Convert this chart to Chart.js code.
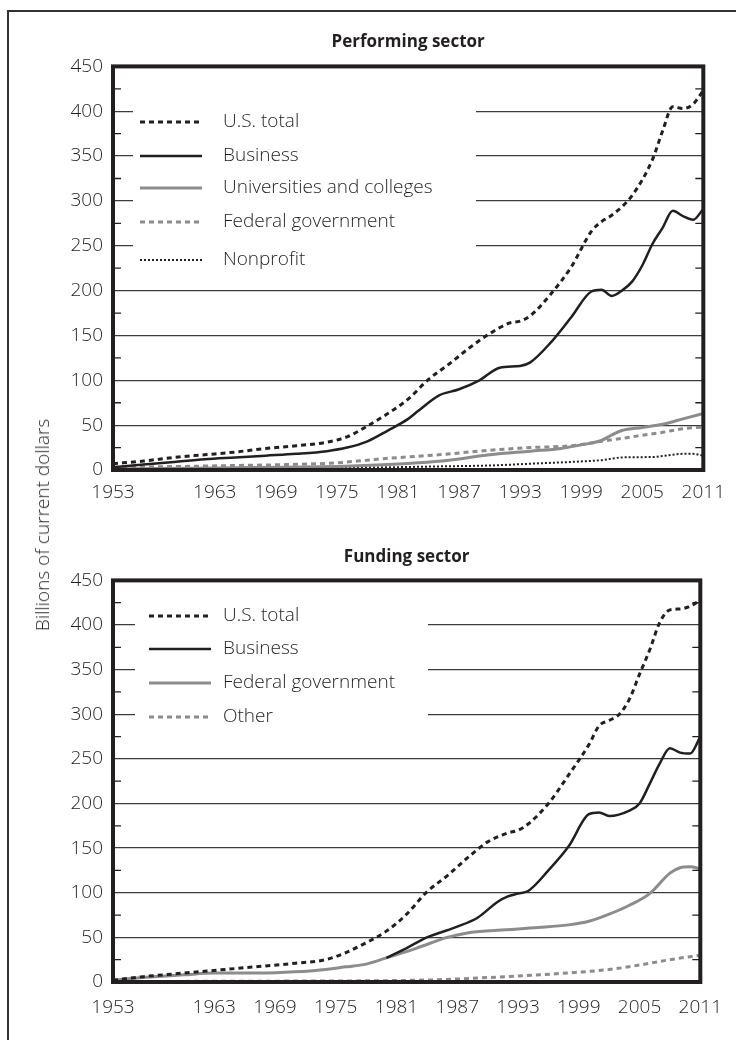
<!DOCTYPE html>
<html><head><meta charset="utf-8">
<script src="https://cdn.jsdelivr.net/npm/chart.js@4.4.1/dist/chart.umd.min.js"></script>
<style>
html,body{margin:0;padding:0;background:#fff;}
body{width:736px;height:1040px;overflow:hidden;position:relative;}
#frame{position:absolute;left:7px;top:10px;width:800px;height:1100px;border:2px solid #333;}
canvas{position:absolute;left:0;}
#c1{top:0;} #c2{top:520px;}
#ytitle{position:absolute;left:42px;top:525px;transform:translate(-50%,-50%) rotate(-90deg);white-space:nowrap;font:300 19px "Open Sans", sans-serif;color:#231f20;}
</style></head>
<body>
<div id="frame"></div>
<canvas id="c1" width="736" height="520"></canvas>
<canvas id="c2" width="736" height="520"></canvas>
<div id="ytitle">Billions of current dollars</div>
<script>
// ---- Data ----
const xTickYears = [1953, 1963, 1969, 1975, 1981, 1987, 1993, 1999, 2005, 2011];

// Performing sector
const perfTotalYears = [1953,1956,1959,1962,1965,1968,1971,1974,1976,1978,1980,1982,1984,1986,1988,1990,1992,1993,1994,1996,1998,2000,2001,2002,2004,2006,2007,2008,2009,2010,2011];
const perfTotal      = [7,10,14,17,20,24,27,31,37,49,63,79,101,118,136,152,164,166,172,196,226,266,277,284,306,346,378,405,403,408,423];
const perfBusinessYears = [1953,1956,1959,1962,1965,1968,1971,1974,1976,1978,1980,1982,1983,1985,1987,1989,1991,1993,1994,1996,1998,2000,2001,2002,2003,2004,2005,2006,2007,2008,2009,2010,2011];
const perfBusiness      = [3,6,9,12,14,16,18,21,25,32,44,57,66,83,90,100,114,116,120,142,170,199,201,194,200,210,228,252,270,289,283,279,291];
const perfUnivYears = [1953,1960,1965,1970,1975,1980,1983,1986,1990,1994,1997,1999,2000,2001,2002,2003,2005,2007,2009,2011];
const perfUniv      = [1,2,2.5,3,4,6,8,11,17,21,24,28,30,33,39,44,47.5,51,57,63];
const perfFedYears = [1953,1960,1965,1970,1975,1978,1980,1985,1990,1994,1998,2001,2004,2007,2009,2011];
const perfFed      = [3,4,5,6,8,11,13,17,22,25,27,32,37,42,46,48];
const perfNonprofitYears = [1953,1965,1975,1980,1985,1990,1994,1998,2001,2003,2006,2008,2009,2010,2011];
const perfNonprofit      = [1,1.5,2.5,3,4,5,7,9,11,14,14.5,17,18,18,16];

// Funding sector
const fundTotalYears = [1953,1956,1959,1962,1965,1968,1971,1974,1976,1978,1980,1982,1984,1986,1988,1990,1992,1993,1994,1996,1998,2000,2001,2002,2003,2004,2005,2006,2007,2008,2009,2010,2011];
const fundTotal      = [2,6,9,12,15,18,21,25,33,44,57,76,101,119,139,157,167,170,177,200,232,266,287,293,300,317,345,372,403,417,418,421,428];
const fundBusinessYears = [1980,1982,1984,1986,1987,1989,1991,1992,1993,1994,1996,1998,2000,2001,2002,2004,2005,2006,2007,2008,2009,2010,2011];
const fundBusiness      = [27,38,50,58,62,72,90,96,99,102,125,152,188,190,186,192,200,222,245,262,257,256,275];
const fundFedYears = [1953,1956,1960,1963,1967,1970,1973,1976,1978,1980,1983,1986,1988,1991,1995,1998,2000,2002,2004,2006,2008,2009,2010,2011];
const fundFed      = [2,5,8,10,10,11,13,17,20,27,38,50,55,58,61,64,68,76,86,99,122,128,129,127];
const fundOtherYears = [1953,1970,1980,1985,1990,1995,1999,2002,2005,2008,2011];
const fundOther      = [0.5,1,1.5,2.5,5,8,11,14,19,25,30];

// ---- Helpers ----
const BLACK = '#231f20', GRAY = '#8c8c8c';
const FONT = '"Open Sans", sans-serif';
const pts = (xs, ys) => xs.map((x, i) => ({x: x, y: ys[i]}));
function ds(label, xs, ys, color, width, dash) {
  return {label, data: pts(xs, ys), borderColor: color, borderWidth: width, borderDash: dash,
    pointRadius: 0, fill: false, cubicInterpolationMode: 'monotone', borderCapStyle: 'butt'};
}

const framePlugin = {
  id: 'frame',
  beforeDatasetsDraw(chart, args, o) {
    const {ctx, chartArea: a, scales: {y}} = chart;
    ctx.save();
    ctx.fillStyle = '#fff';
    ctx.fillRect(o.maskLeft, o.maskTop, o.maskRight - o.maskLeft, o.maskBottom - o.maskTop);
    ctx.strokeStyle = BLACK; ctx.lineWidth = 1.3;
    ctx.beginPath();
    for (let v = 25; v < 450; v += 50) {
      const py = y.getPixelForValue(v);
      ctx.moveTo(a.left, py); ctx.lineTo(a.left + 8, py);
      ctx.moveTo(a.right - 8, py); ctx.lineTo(a.right, py);
    }
    ctx.stroke();
    ctx.restore();
  },
  afterDatasetsDraw(chart, args, o) {
    const {ctx, chartArea: a} = chart;
    ctx.save();
    ctx.strokeStyle = BLACK; ctx.lineWidth = 4;
    ctx.strokeRect(a.left, a.top, a.right - a.left, a.bottom - a.top);
    ctx.font = '300 19px ' + FONT;
    ctx.textBaseline = 'middle';
    ctx.fillStyle = BLACK;
    chart.data.datasets.forEach((d, i) => {
      const ly = o.legendY[i];
      ctx.save();
      ctx.strokeStyle = d.borderColor; ctx.lineWidth = d.borderWidth;
      ctx.setLineDash(d.borderDash || []);
      ctx.beginPath(); ctx.moveTo(o.sampleX0, ly); ctx.lineTo(o.sampleX1, ly); ctx.stroke();
      ctx.restore();
      ctx.fillText(d.label, o.textX, ly);
    });
    ctx.restore();
  }
};

function makeChart(id, title, datasets, cfg) {
  return new Chart(document.getElementById(id), {
    type: 'line',
    data: {datasets},
    plugins: [framePlugin],
    options: {
      responsive: false, animation: false, devicePixelRatio: 1,
      layout: {padding: {left: 53, right: 30, top: 0, bottom: 0}},
      plugins: {
        legend: {display: false}, tooltip: {enabled: false},
        title: {display: true, text: title, fullSize: false, color: BLACK,
          font: {family: FONT, size: 17, weight: '700'},
          padding: {top: cfg.titleTop, bottom: cfg.titleBottom}},
        frame: cfg.frame
      },
      scales: {
        x: {type: 'linear', min: 1953, max: 2011,
          afterBuildTicks: s => { s.ticks = xTickYears.map(v => ({value: v})); },
          afterFit: s => { s.height = cfg.xHeight; },
          grid: {display: false, drawTicks: false}, border: {display: false},
          ticks: {autoSkip: false, maxRotation: 0, padding: cfg.xPad, color: BLACK,
            font: {family: FONT, size: 19, weight: '300'},
            callback: v => String(v)}},
        y: {min: 0, max: 450,
          afterFit: s => { s.width = 60; },
          grid: {color: '#3c3c3c', lineWidth: 1.3, drawTicks: false}, border: {display: false},
          ticks: {stepSize: 50, padding: 10, color: BLACK,
            font: {family: FONT, size: 19, weight: '300'}}}
      }
    }
  });
}

makeChart('c1', 'Performing sector', [
  ds('U.S. total', perfTotalYears, perfTotal, BLACK, 3, [5, 4]),
  ds('Business', perfBusinessYears, perfBusiness, BLACK, 2.5, []),
  ds('Universities and colleges', perfUnivYears, perfUniv, GRAY, 3, []),
  ds('Federal government', perfFedYears, perfFed, GRAY, 3, [5, 4]),
  ds('Nonprofit', perfNonprofitYears, perfNonprofit, BLACK, 2, [2, 2])
], {titleTop: 32, titleBottom: 14, xHeight: 50, xPad: 11,
    frame: {maskLeft: 133, maskRight: 476, maskTop: 72, maskBottom: 270,
      legendY: [122, 156, 188, 222, 260], sampleX0: 140, sampleX1: 202, textX: 223}});

makeChart('c2', 'Funding sector', [
  ds('U.S. total', fundTotalYears, fundTotal, BLACK, 3, [5, 4]),
  ds('Business', fundBusinessYears, fundBusiness, BLACK, 2.5, []),
  ds('Federal government', fundFedYears, fundFed, GRAY, 3, []),
  ds('Other', fundOtherYears, fundOther, GRAY, 3, [5, 4])
], {titleTop: 27, titleBottom: 13, xHeight: 58, xPad: 14,
    frame: {maskLeft: 135, maskRight: 428, maskTop: 66, maskBottom: 228,
      legendY: [96, 129, 163, 197], sampleX0: 149, sampleX1: 211, textX: 223}});
</script>
</body></html>
